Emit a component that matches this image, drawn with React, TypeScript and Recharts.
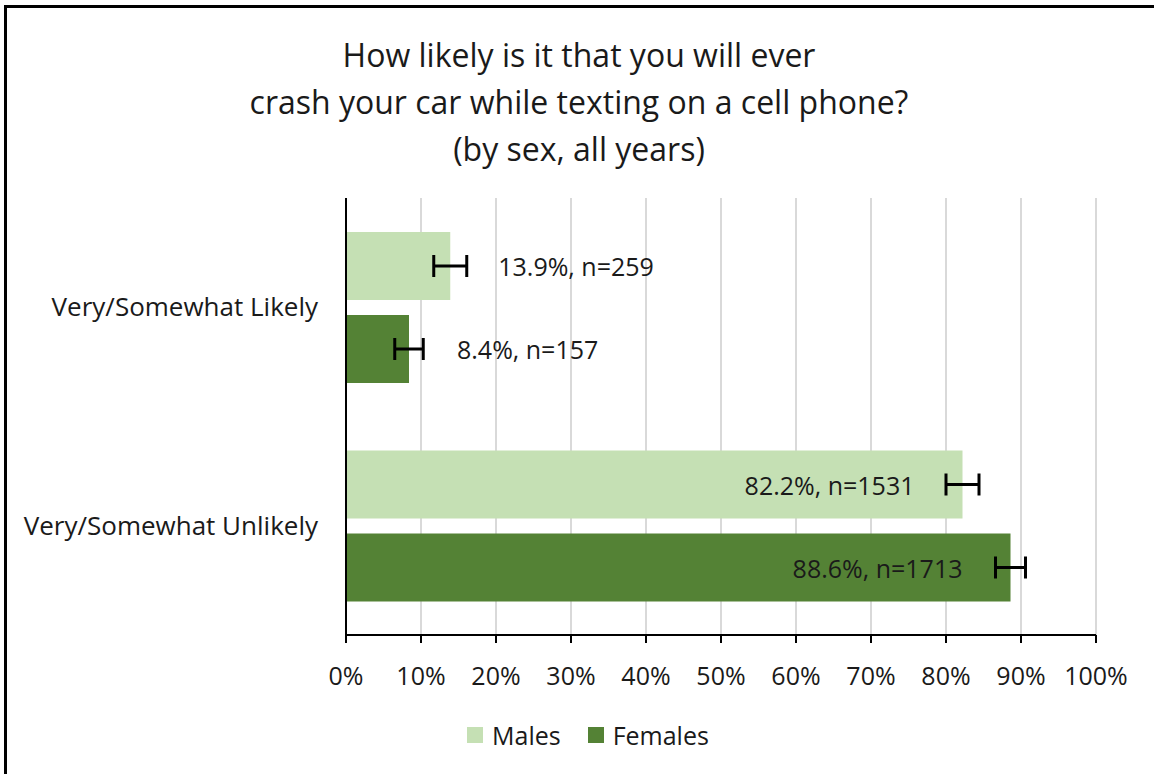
import { BarChart, Bar, XAxis, YAxis, CartesianGrid, ErrorBar, LabelList } from 'recharts';

const categories = ['Very/Somewhat Likely', 'Very/Somewhat Unlikely'];
const malePct = [13.9, 82.2];
const femalePct = [8.4, 88.6];
const maleN = [259, 1531];
const femaleN = [157, 1713];
const maleErr = [2.2, 2.2];
const femaleErr = [1.9, 2.0];
const xTicks = [0, 10, 20, 30, 40, 50, 60, 70, 80, 90, 100];

const MALE = '#c5e0b4';
const FEMALE = '#548235';
const FONT = '"Open Sans", "Liberation Sans", sans-serif';
const TEXT = '#1a1a1a';

const data = categories.map((c, i) => ({
  category: c,
  males: malePct[i],
  females: femalePct[i],
  maleErr: maleErr[i],
  femaleErr: femaleErr[i],
  maleLabel: `${malePct[i].toFixed(1)}%, n=${maleN[i]}`,
  femaleLabel: `${femalePct[i].toFixed(1)}%, n=${femaleN[i]}`,
}));

// small bars get the label outside, past the error bar; long bars inside the end
const BarLabel = (props: any) => {
  const { x, y, width, height, value } = props;
  const end = Number(x) + Number(width);
  const inside = Number(width) > 375;
  return (
    <text
      x={inside ? end - 48 : end + 48}
      y={Number(y) + Number(height) / 2}
      textAnchor={inside ? 'end' : 'start'}
      dominantBaseline="central"
      fontSize={25}
      fontFamily={FONT}
      fill={TEXT}
    >
      {value}
    </text>
  );
};

const legendItems = [
  { name: 'Males', color: MALE },
  { name: 'Females', color: FEMALE },
];

export default function App() {
  return (
    <div style={{ position: 'fixed', left: 0, top: 0, width: 1154, height: 774, overflow: 'hidden', background: '#fff' }}>
      <div
        style={{
          position: 'absolute', left: 4, top: 5, width: 1200, height: 820,
          border: '3px solid #000', boxSizing: 'border-box',
        }}
      />
      <div
        style={{
          position: 'absolute', left: 0, top: 31, width: 1158, textAlign: 'center',
          fontFamily: FONT, fontSize: 32, lineHeight: '47px', color: TEXT,
        }}
      >
        <div>How likely is it that you will ever</div>
        <div>crash your car while texting on a cell phone?</div>
        <div>(by sex, all years)</div>
      </div>
      <div style={{ position: 'absolute', left: 0, top: 0 }}>
        <BarChart
          width={1154}
          height={774}
          data={data}
          layout="vertical"
          margin={{ top: 198, right: 58, bottom: 0, left: 0 }}
          barSize={68}
          barGap={15}
        >
          <CartesianGrid horizontal={false} stroke="#d9d9d9" strokeWidth={2} />
          <XAxis
            type="number"
            domain={[0, 100]}
            ticks={xTicks}
            tickFormatter={(v: number) => `${v}%`}
            axisLine={{ stroke: '#000', strokeWidth: 2 }}
            tickLine={{ stroke: '#000', strokeWidth: 2 }}
            tickSize={8}
            tickMargin={24}
            tick={{ fontSize: 25, fontFamily: FONT, fill: TEXT }}
            height={139}
          />
          <YAxis
            type="category"
            dataKey="category"
            width={346}
            axisLine={{ stroke: '#000', strokeWidth: 2 }}
            tickLine={false}
            tickSize={0}
            tickMargin={28}
            tick={{ fontSize: 26, fontFamily: FONT, fill: TEXT }}
          />
          <Bar dataKey="males" fill={MALE} isAnimationActive={false}>
            <ErrorBar dataKey="maleErr" direction="x" width={11} strokeWidth={3} stroke="#000" />
            <LabelList dataKey="maleLabel" content={BarLabel} />
          </Bar>
          <Bar dataKey="females" fill={FEMALE} isAnimationActive={false}>
            <ErrorBar dataKey="femaleErr" direction="x" width={11} strokeWidth={3} stroke="#000" />
            <LabelList dataKey="femaleLabel" content={BarLabel} />
          </Bar>
        </BarChart>
      </div>
      <div style={{ position: 'absolute', left: 467, top: 718, height: 34, display: 'flex', alignItems: 'center', fontFamily: FONT, fontSize: 25, color: TEXT }}>
        {legendItems.map((it, i) => (
          <div key={it.name} style={{ display: 'flex', alignItems: 'center', marginRight: i === 0 ? 27 : 0 }}>
            <span style={{ width: 16, height: 16, background: it.color, display: 'inline-block', marginRight: 9 }} />
            <span>{it.name}</span>
          </div>
        ))}
      </div>
    </div>
  );
}
